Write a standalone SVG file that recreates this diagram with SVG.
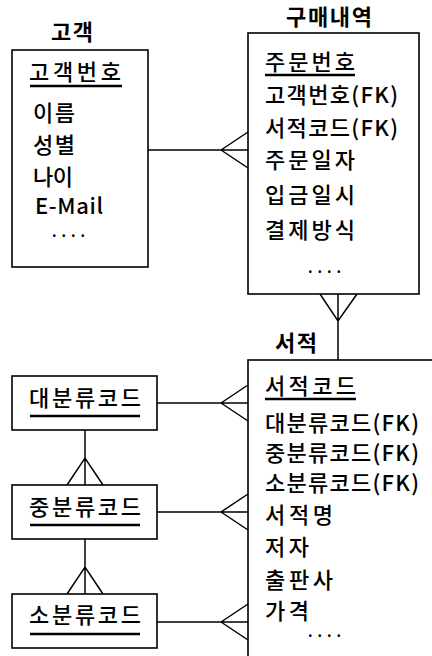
<svg xmlns="http://www.w3.org/2000/svg" width="432" height="656" viewBox="0 0 432 656">
<style>
.bg{fill:#fff}
.box{fill:#fff;stroke:#000;stroke-width:1.6}
.ln{fill:none;stroke:#000;stroke-width:1.5}
.ul{stroke:#000;stroke-width:2.4}
text{font-family:"Noto Sans CJK KR","Noto Sans",sans-serif;font-size:22px;font-weight:500;fill:#000}
.t{font-weight:bold}
.d{font-size:14px;font-weight:bold}
</style>
<rect class="bg" width="432" height="656"/>
<g id="connectors">
<path class="ln" d="M148,150H248M221,150L248,132M221,150L248,168"/>
<path class="ln" d="M338,294V360M320,294L338,321L357,294"/>
<path class="ln" d="M157,403H248M221,403L248,385M221,403L248,421"/>
<path class="ln" d="M157,512H248M221,512L248,494M221,512L248,530"/>
<path class="ln" d="M157,622H248M221,622L248,604M221,622L248,640"/>
<path class="ln" d="M85,430V485M67,485L85,458L103,485"/>
<path class="ln" d="M85,539V594M67,594L85,567L103,594"/>
</g>
<g id="customer">
<text class="t" x="51" y="40" textLength="42" lengthAdjust="spacing">고객</text>
<rect class="box" x="12" y="50" width="136" height="217"/>
<text x="29" y="80" textLength="92" lengthAdjust="spacing">고객번호</text>
<line class="ul" x1="30" y1="86" x2="122" y2="86"/>
<text x="33" y="121" textLength="42" lengthAdjust="spacing">이름</text>
<text x="33" y="153" textLength="42" lengthAdjust="spacing">성별</text>
<text x="33" y="185" textLength="40" lengthAdjust="spacing">나이</text>
<text x="35" y="214" textLength="68" lengthAdjust="spacing">E-Mail</text>
<text class="d" x="52" y="237" textLength="33" lengthAdjust="spacing">....</text>
</g>
<g id="purchase">
<text class="t" x="286" y="25" textLength="86" lengthAdjust="spacing">구매내역</text>
<rect class="box" x="248" y="33" width="171" height="261"/>
<text x="265" y="70" textLength="90" lengthAdjust="spacing">주문번호</text>
<line class="ul" x1="265" y1="75" x2="355" y2="75"/>
<text x="265" y="103" textLength="133" lengthAdjust="spacing">고객번호(FK)</text>
<text x="265" y="136" textLength="133" lengthAdjust="spacing">서적코드(FK)</text>
<text x="265" y="168" textLength="90" lengthAdjust="spacing">주문일자</text>
<text x="265" y="203" textLength="90" lengthAdjust="spacing">입금일시</text>
<text x="265" y="238" textLength="90" lengthAdjust="spacing">결제방식</text>
<text class="d" x="308" y="273" textLength="33" lengthAdjust="spacing">....</text>
</g>
<g id="book">
<text class="t" x="275" y="351" textLength="42" lengthAdjust="spacing">서적</text>
<rect class="box" x="248" y="360" width="200" height="320"/>
<text x="265" y="394" textLength="91" lengthAdjust="spacing">서적코드</text>
<line class="ul" x1="265" y1="399" x2="356" y2="399"/>
<text x="265" y="431" textLength="154" lengthAdjust="spacing">대분류코드(FK)</text>
<text x="265" y="461" textLength="154" lengthAdjust="spacing">중분류코드(FK)</text>
<text x="265" y="491" textLength="154" lengthAdjust="spacing">소분류코드(FK)</text>
<text x="265" y="523" textLength="68" lengthAdjust="spacing">서적명</text>
<text x="265" y="555" textLength="44" lengthAdjust="spacing">저자</text>
<text x="265" y="588" textLength="68" lengthAdjust="spacing">출판사</text>
<text x="265" y="619" textLength="44" lengthAdjust="spacing">가격</text>
<text class="d" x="308" y="637" textLength="33" lengthAdjust="spacing">....</text>
</g>
<g id="major">
<rect class="box" x="12" y="376" width="145" height="54"/>
<text x="29" y="406" textLength="112" lengthAdjust="spacing">대분류코드</text>
<line class="ul" x1="30" y1="416" x2="140" y2="416"/>
</g>
<g id="middle">
<rect class="box" x="12" y="485" width="145" height="54"/>
<text x="29" y="515" textLength="112" lengthAdjust="spacing">중분류코드</text>
<line class="ul" x1="30" y1="525" x2="140" y2="525"/>
</g>
<g id="minor">
<rect class="box" x="12" y="594" width="145" height="54"/>
<text x="29" y="623" textLength="112" lengthAdjust="spacing">소분류코드</text>
<line class="ul" x1="30" y1="634" x2="140" y2="634"/>
</g>
</svg>
